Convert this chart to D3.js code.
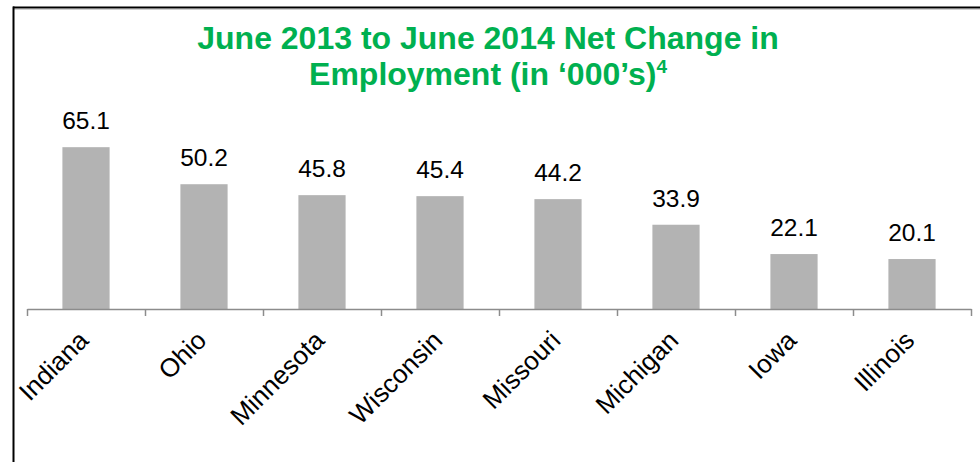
<!DOCTYPE html>
<html>
<head>
<meta charset="utf-8">
<script src="https://cdn.jsdelivr.net/npm/d3@7"></script>
<style>
  body { margin: 0; background: #fff; }
  text { font-family: Arial, "Liberation Sans", sans-serif; }
</style>
</head>
<body>
<div id="chart"></div>
<script>
// Data
const states = ["Indiana", "Ohio", "Minnesota", "Wisconsin", "Missouri", "Michigan", "Iowa", "Illinois"];
const netChange = [65.1, 50.2, 45.8, 45.4, 44.2, 33.9, 22.1, 20.1];

const W = 980, H = 462;
const plot = { left: 27, right: 971, top: 135, base: 309 };

const svg = d3.select("#chart")
    .append("svg")
    .attr("width", W)
    .attr("height", H);

// frame (top and left edge visible)
svg.append("line")
    .attr("x1", 13).attr("x2", W).attr("y1", 7.5).attr("y2", 7.5)
    .attr("stroke", "#000").attr("stroke-width", 2);
svg.append("line")
    .attr("x1", 13).attr("x2", W).attr("y1", 9.5).attr("y2", 9.5)
    .attr("stroke", "#d0d0d0").attr("stroke-width", 1);
svg.append("line")
    .attr("x1", 13.5).attr("x2", 13.5).attr("y1", 6.5).attr("y2", H)
    .attr("stroke", "#000").attr("stroke-width", 2);

const x = d3.scaleBand()
    .domain(states)
    .range([plot.left, plot.right])
    .paddingInner(0.6)
    .paddingOuter(0.3);

const y = d3.scaleLinear()
    .domain([0, 70])
    .range([plot.base, plot.top]);

// Title
const title = svg.append("text")
    .attr("text-anchor", "middle")
    .attr("fill", "#00B050")
    .style("font-size", "32px")
    .style("font-weight", "bold");
title.append("tspan").attr("x", 488).attr("y", 49).text("June 2013 to June 2014 Net Change in");
title.append("tspan").attr("x", 488).attr("y", 85).text("Employment (in \u2018000\u2019s)");
title.append("tspan").attr("dy", -12).style("font-size", "19px").text("4");

// bars
const data = states.map((s, i) => ({ state: s, value: netChange[i] }));

svg.append("g")
    .selectAll("rect")
    .data(data)
    .join("rect")
    .attr("x", d => x(d.state))
    .attr("y", d => y(d.value))
    .attr("width", x.bandwidth())
    .attr("height", d => y(0) - y(d.value))
    .attr("fill", "#b3b3b3");

// value labels
svg.append("g")
    .selectAll("text")
    .data(data)
    .join("text")
    .attr("x", d => x(d.state) + x.bandwidth() / 2)
    .attr("y", d => y(d.value) - 18)
    .attr("text-anchor", "middle")
    .style("font-size", "24.5px")
    .attr("fill", "#000")
    .text(d => d.value.toFixed(1));

// axis line with ticks between categories
const edges = d3.scaleLinear().domain([0, states.length]).range([plot.left, plot.right]);
const axisG = svg.append("g")
    .attr("transform", `translate(0,${plot.base})`)
    .call(d3.axisBottom(edges)
        .tickValues(d3.range(0, states.length + 1))
        .tickSize(7)
        .tickSizeOuter(0)
        .tickFormat(""));
axisG.selectAll("path, line").attr("stroke", "#8c8c8c").attr("stroke-width", 1.5);

// category labels
const labG = svg.append("g")
    .attr("transform", `translate(0,${plot.base})`)
    .call(d3.axisBottom(x).tickSize(0).tickSizeOuter(0));
labG.select(".domain").remove();
labG.selectAll("text")
    .attr("text-anchor", "end")
    .attr("fill", "#000")
    .style("font-size", "26px")
    .attr("dy", 0)
    .attr("x", 0)
    .attr("y", 0)
    .attr("transform", "translate(4,33) rotate(-45)");
</script>
</body>
</html>
